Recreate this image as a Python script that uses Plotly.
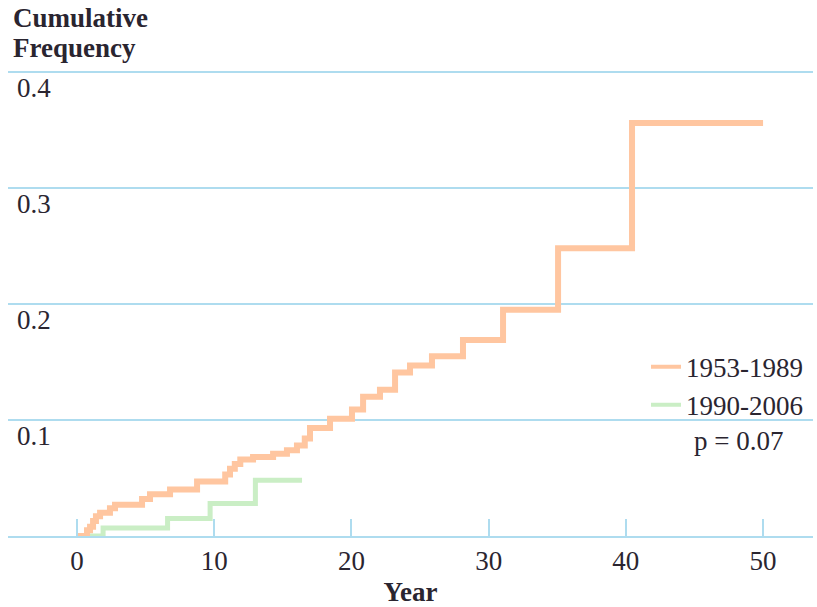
import plotly.graph_objects as go

# ---- data ----
years_1953 = [0, 0.73, 0.95, 1.17, 1.38, 1.68, 2.4, 2.77, 4.74, 5.32, 6.78, 8.75,
              10.8, 11.15, 11.5, 11.9, 12.83, 14.29, 15.3, 16.03, 16.6, 16.98,
              18.44, 20.04, 20.85, 22.08, 23.18, 24.27, 25.87, 28.13, 31.05,
              35.06, 40.45, 50.0]
freq_1953 = [0, 0.005, 0.008, 0.013, 0.017, 0.020, 0.024, 0.027, 0.032, 0.036, 0.040, 0.047,
             0.053, 0.058, 0.062, 0.066, 0.068, 0.071, 0.074, 0.078, 0.084, 0.093,
             0.101, 0.109, 0.120, 0.126, 0.141, 0.147, 0.155, 0.169, 0.195,
             0.248, 0.356, 0.356]

years_1990 = [0, 1.9, 6.6, 9.7, 13.0, 16.4]
freq_1990 = [0, 0.007, 0.015, 0.028, 0.048, 0.048]

x_ticks = [0, 10, 20, 30, 40, 50]
y_ticks = [0.1, 0.2, 0.3, 0.4]
y_tick_text = ["0.1", "0.2", "0.3", "0.4"]

series_names = ["1953-1989", "1990-2006"]
p_text = "p = 0.07"

SERIF = "Liberation Serif, Times New Roman, serif"
TXT = "#2a2530"
BLUE = "#aedcef"
ORANGE = "#ffc6a0"
GREEN = "#caeec5"

fig = go.Figure()
# main step lines (green first so the orange sits on top near the origin)
fig.add_trace(go.Scatter(x=years_1990, y=freq_1990, mode="lines", name=series_names[1],
                         line=dict(shape="hv", color=GREEN, width=5), cliponaxis=False,
                         showlegend=False))
fig.add_trace(go.Scatter(x=years_1953, y=freq_1953, mode="lines", name=series_names[0],
                         line=dict(shape="hv", color=ORANGE, width=6), cliponaxis=False,
                         showlegend=False))
# legend entries (thinner sample lines, as in the reference)
fig.add_trace(go.Scatter(x=[None], y=[None], mode="lines", name=series_names[0],
                         line=dict(color=ORANGE, width=4), legendgroup="a"))
fig.add_trace(go.Scatter(x=[None], y=[None], mode="lines", name=series_names[1],
                         line=dict(color=GREEN, width=4), legendgroup="b"))

W, H = 817, 607
ml, mr, mt, mb = 8, 4, 69, 67
ytop = 0.4 + 3 / 1170

def py2paper(py):
    return (H - mb - py) / (H - mb - mt)

def px2paper(px):
    return (px - ml) / (W - ml - mr)

fig.update_layout(
    width=W, height=H,
    margin=dict(l=ml, r=mr, t=mt, b=mb),
    paper_bgcolor="white", plot_bgcolor="white",
    font=dict(family=SERIF, size=27, color=TXT),
    showlegend=True,
    legend=dict(x=px2paper(646), y=py2paper(345),
                xanchor="left", yanchor="top", traceorder="normal",
                tracegroupgap=6, bgcolor="rgba(0,0,0,0)",
                font=dict(family=SERIF, size=27, color=TXT)),
    xaxis=dict(range=[-5.03, 53.64], tickvals=x_ticks, ticks="inside", ticklen=17,
               tickwidth=2, tickcolor=BLUE, showline=True, linecolor=BLUE, linewidth=2,
               showgrid=False, zeroline=False,
               tickfont=dict(family=SERIF, size=27, color=TXT),
               title=dict(text="<b>Year</b>", font=dict(family=SERIF, size=27, color=TXT),
                          standoff=8)),
    yaxis=dict(range=[0, ytop], tickvals=y_ticks, showticklabels=False, showgrid=True,
               gridcolor=BLUE, gridwidth=2, zeroline=False, showline=False),
)

for v, t in zip(y_ticks, y_tick_text):
    fig.add_annotation(x=px2paper(15), xref="paper", y=v, yref="y",
                       text=t, showarrow=False, xanchor="left", yanchor="top", yshift=1,
                       font=dict(family=SERIF, size=27, color=TXT))

fig.add_annotation(x=px2paper(692), xref="paper", y=0.082, yref="y",
                   text=p_text, showarrow=False, xanchor="left", yanchor="middle",
                   font=dict(family=SERIF, size=27, color=TXT))

fig.add_annotation(x=px2paper(11), xref="paper", y=py2paper(18),
                   yref="paper", text="<b>Cumulative</b>", showarrow=False,
                   xanchor="left", yanchor="middle",
                   font=dict(family=SERIF, size=27, color=TXT))
fig.add_annotation(x=px2paper(11), xref="paper", y=py2paper(48),
                   yref="paper", text="<b>Frequency</b>", showarrow=False,
                   xanchor="left", yanchor="middle",
                   font=dict(family=SERIF, size=27, color=TXT))

fig.write_html("out.html")
